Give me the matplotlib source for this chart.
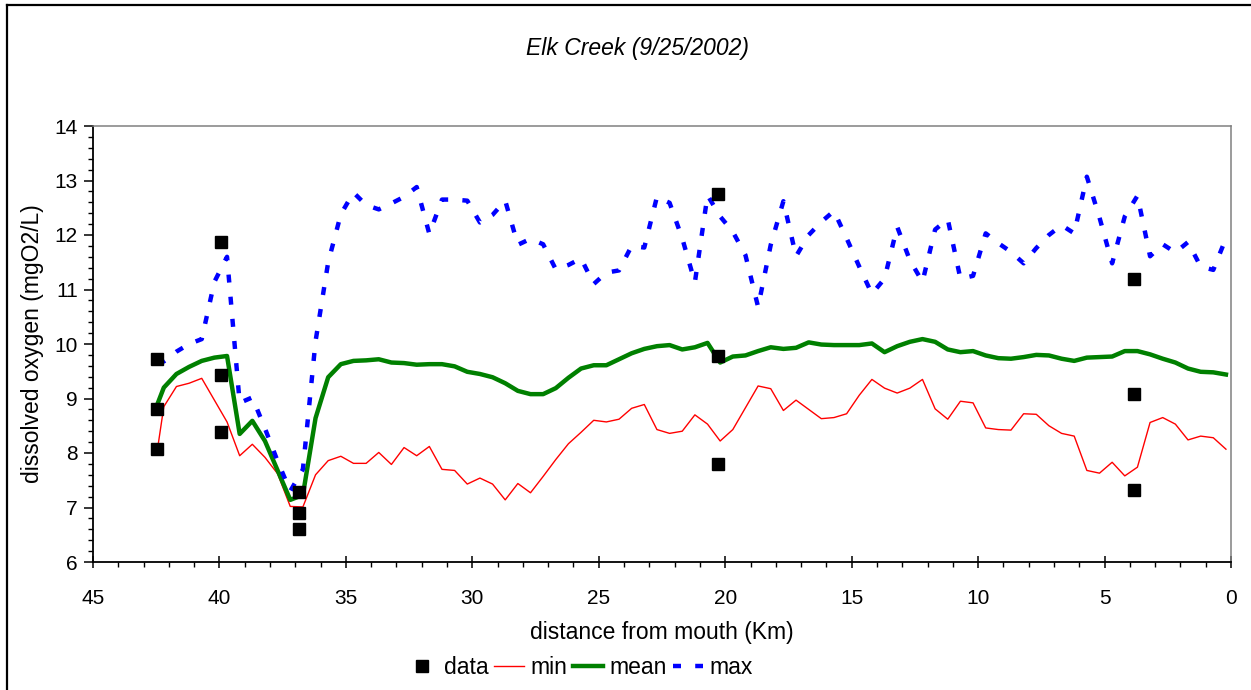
import matplotlib
matplotlib.use('Agg')
import matplotlib.pyplot as plt
from matplotlib.lines import Line2D
from matplotlib.ticker import MultipleLocator

plt.rcParams['font.family'] = ['Liberation Sans', 'DejaVu Sans']

# distance from mouth (km) of the model segments
dist = [42.45, 42.2, 41.7, 41.2, 40.7, 40.2, 39.7, 39.2, 38.7, 38.2,
        37.7, 37.2, 36.7, 36.2, 35.7, 35.2, 34.7, 34.2, 33.7, 33.2,
        32.7, 32.2, 31.7, 31.2, 30.7, 30.2, 29.7, 29.2, 28.7, 28.2,
        27.7, 27.2, 26.7, 26.2, 25.7, 25.2, 24.7, 24.2, 23.7, 23.2,
        22.7, 22.2, 21.7, 21.2, 20.7, 20.2, 19.7, 19.2, 18.7, 18.2,
        17.7, 17.2, 16.7, 16.2, 15.7, 15.2, 14.7, 14.2, 13.7, 13.2,
        12.7, 12.2, 11.7, 11.2, 10.7, 10.2, 9.7, 9.2, 8.7, 8.2,
        7.7, 7.2, 6.7, 6.2, 5.7, 5.2, 4.7, 4.2, 3.7, 3.2,
        2.7, 2.2, 1.7, 1.2, 0.7, 0.2]

do_min = [8.07, 8.85, 9.22, 9.28, 9.37, 8.97, 8.57, 7.95, 8.16, 7.92,
          7.62, 7.02, 7.01, 7.60, 7.86, 7.94, 7.81, 7.81, 8.01, 7.79,
          8.10, 7.95, 8.12, 7.70, 7.68, 7.43, 7.54, 7.43, 7.14, 7.44,
          7.27, 7.57, 7.88, 8.17, 8.38, 8.60, 8.57, 8.62, 8.82, 8.89,
          8.43, 8.36, 8.40, 8.70, 8.53, 8.22, 8.43, 8.83, 9.23, 9.18,
          8.78, 8.97, 8.80, 8.63, 8.65, 8.72, 9.06, 9.35, 9.19, 9.10,
          9.19, 9.35, 8.81, 8.62, 8.95, 8.92, 8.46, 8.43, 8.42, 8.72,
          8.71, 8.50, 8.36, 8.31, 7.68, 7.63, 7.83, 7.58, 7.74, 8.56,
          8.65, 8.53, 8.24, 8.31, 8.28, 8.07]

do_mean = [8.90, 9.20, 9.45, 9.58, 9.69, 9.75, 9.78, 8.35, 8.59, 8.22,
           7.68, 7.14, 7.23, 8.64, 9.39, 9.63, 9.69, 9.70, 9.72, 9.66,
           9.65, 9.62, 9.63, 9.63, 9.59, 9.49, 9.45, 9.39, 9.28, 9.14,
           9.08, 9.08, 9.19, 9.38, 9.55, 9.61, 9.61, 9.72, 9.83, 9.91,
           9.96, 9.98, 9.90, 9.94, 10.02, 9.66, 9.77, 9.79, 9.87, 9.94,
           9.91, 9.93, 10.03, 9.99, 9.98, 9.98, 9.98, 10.01, 9.85, 9.96,
           10.04, 10.09, 10.04, 9.90, 9.85, 9.87, 9.79, 9.74, 9.73, 9.76,
           9.80, 9.79, 9.73, 9.69, 9.75, 9.76, 9.77, 9.87, 9.87, 9.81,
           9.73, 9.66, 9.55, 9.49, 9.48, 9.44]

do_max = [9.72, 9.68, 9.86, 10.00, 10.09, 11.14, 11.60, 8.92, 9.02, 8.45,
          7.85, 7.30, 7.70, 10.05, 11.50, 12.38, 12.78, 12.55, 12.47, 12.58,
          12.70, 12.88, 12.02, 12.65, 12.65, 12.63, 12.23, 12.37, 12.63, 11.82,
          11.93, 11.83, 11.37, 11.45, 11.57, 11.10, 11.31, 11.35, 11.80, 11.77,
          12.70, 12.59, 11.94, 11.13, 12.73, 12.34, 12.06, 11.63, 10.68, 11.82,
          12.62, 11.61, 12.00, 12.24, 12.44, 11.94, 11.42, 10.92, 11.20, 12.15,
          11.54, 11.14, 12.10, 12.29, 11.20, 11.25, 12.03, 11.85, 11.69, 11.48,
          11.76, 12.00, 12.18, 12.03, 13.07, 12.32, 11.48, 12.34, 12.72, 11.61,
          11.83, 11.68, 11.87, 11.42, 11.36, 11.94]

# observed samples
obs_km = [42.45, 42.45, 42.45, 39.95, 39.95, 39.95, 36.85, 36.85, 36.85,
          20.3, 20.3, 20.3, 3.85, 3.85, 3.85]
obs_do = [9.73, 8.80, 8.07, 11.88, 9.43, 8.38, 7.29, 6.89, 6.61,
          12.75, 9.78, 7.80, 11.19, 9.08, 7.33]

W, H = 1251, 690
fig = plt.figure(figsize=(W / 100, H / 100), dpi=100)
ax = fig.add_axes([93 / W, 1 - 562 / H, (1231 - 93) / W, (562 - 126) / H])

l_data, = ax.plot(obs_km, obs_do, 's', color='black', ms=8, ls='none',
                  label='data', zorder=5)
l_min, = ax.plot(dist, do_min, color='#ff0000', lw=1.0, label='min')
l_mean, = ax.plot(dist, do_mean, color='#008000', lw=3.2, label='mean')
l_max, = ax.plot(dist, do_max, color='#0000ff', lw=3.2,
                 ls=(0, (1.8, 3.2)), label='max')

ax.set_xlim(45, 0)
ax.set_ylim(6, 14)
ax.xaxis.set_major_locator(MultipleLocator(5))
ax.xaxis.set_minor_locator(MultipleLocator(1))
ax.yaxis.set_major_locator(MultipleLocator(1))
ax.yaxis.set_minor_locator(MultipleLocator(0.2))

ax.tick_params(axis='x', which='major', direction='inout', length=9,
               width=1.1, labelsize=15, pad=15)
ax.tick_params(axis='x', which='minor', direction='out', length=3.6,
               width=1.0)
ax.tick_params(axis='y', which='major', direction='out', length=6.5,
               width=1.1, labelsize=15, pad=4.5)
ax.tick_params(axis='y', which='minor', direction='out', length=3.6,
               width=1.0)

for s in ['top', 'right']:
    ax.spines[s].set_color('#808080')
    ax.spines[s].set_linewidth(1.1)
for s in ['left', 'bottom']:
    ax.spines[s].set_color('black')
    ax.spines[s].set_linewidth(1.3)

fig.text(637 / W, 1 - 48 / H, 'Elk Creek (9/25/2002)', style='italic',
         fontsize=16.5, ha='center', va='center')
fig.text(662 / W, 1 - 633 / H, 'distance from mouth (Km)', fontsize=16.5,
         ha='center', va='center')
fig.text(33 / W, 1 - 344 / H, 'dissolved oxygen (mgO2/L)', fontsize=16.5,
         rotation=90, ha='center', va='center')

fig.legend(handles=[l_data, l_min, l_mean, l_max], loc='center',
           bbox_to_anchor=(580 / W, 1 - 668 / H), ncol=4, frameon=False,
           fontsize=16.5, handlelength=1.3, handletextpad=0.3,
           columnspacing=0.25, borderaxespad=0)

# outer chart frame (only top and left edges fall inside the picture)
fig.add_artist(Line2D([7 / W, 7 / W], [0, 1 - 5 / H],
                      transform=fig.transFigure, color='black', lw=1.6))
fig.add_artist(Line2D([7 / W, 1], [1 - 5 / H, 1 - 5 / H],
                      transform=fig.transFigure, color='black', lw=1.6))

fig.savefig('out.png', dpi=100)
